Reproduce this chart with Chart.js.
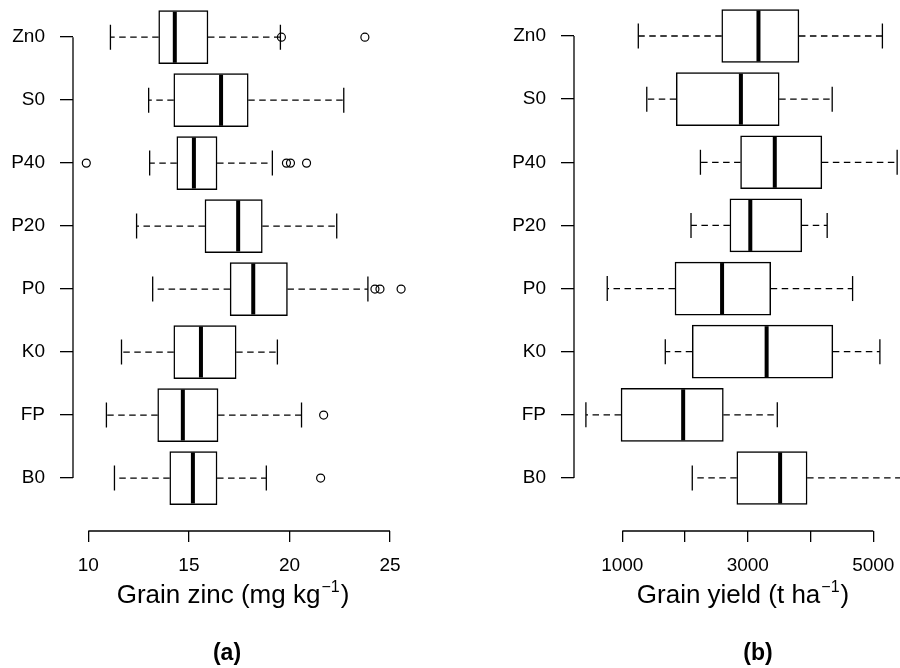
<!DOCTYPE html>
<html>
<head>
<meta charset="utf-8">
<script src="https://cdn.jsdelivr.net/npm/chart.js@4.4.1/dist/chart.umd.min.js"></script>
<style>
  html, body { margin: 0; padding: 0; background: #fff; }
  #wrap { position: relative; width: 900px; height: 668px; }
  canvas { position: absolute; top: 0; }
  #zinc { left: 0; }
  #yield { left: 450px; }
</style>
</head>
<body>
<div id="wrap">
  <canvas id="zinc" width="450" height="668"></canvas>
  <canvas id="yield" width="450" height="668"></canvas>
</div>
<script>
var categories = ['Zn0', 'S0', 'P40', 'P20', 'P0', 'K0', 'FP', 'B0'];

// (a) grain zinc, mg kg-1
var zincLow  = [11.1, 13.0, 13.05, 12.4, 13.2, 11.65, 10.9, 11.3];
var zincQ1   = [13.5, 14.25, 14.4, 15.8, 17.05, 14.25, 13.45, 14.05];
var zincMed  = [14.3, 16.6, 15.25, 17.45, 18.2, 15.6, 14.7, 15.2];
var zincQ3   = [15.95, 17.95, 16.4, 18.65, 19.9, 17.35, 16.45, 16.4];
var zincHigh = [19.55, 22.7, 19.15, 22.35, 23.9, 19.4, 20.6, 18.85];
var zincOutliers = [[19.6, 23.75], [], [9.9, 19.85, 20.05, 20.85], [], [24.25, 24.5, 25.55], [], [21.7], [21.55]];
var zincTicks = [10, 15, 20, 25];

// (b) grain yield, t ha-1
var yieldLow  = [1255, 1390, 2245, 2095, 760, 1685, 420, 2115];
var yieldQ1   = [2585, 1860, 2885, 2715, 1840, 2115, 980, 2825];
var yieldMed  = [3170, 2890, 3430, 3040, 2590, 3300, 1970, 3515];
var yieldQ3   = [3815, 3500, 4180, 3860, 3365, 4355, 2610, 3945];
var yieldHigh = [5145, 4345, 5380, 4265, 4670, 5105, 3470, 5600];
var yieldOutliers = [[], [], [], [], [], [], [], []];
var yieldTicks = [1000, 2000, 3000, 4000, 5000];
var yieldTickLabels = ['1000', '', '3000', '', '5000'];

Chart.defaults.font.family = '"Liberation Sans", Arial, Helvetica, sans-serif';
Chart.defaults.color = '#000';

function rowPos(i) {
    return categories.length - i;
}

function line(ctx, x1, y1, x2, y2) {
    ctx.beginPath();
    ctx.moveTo(x1, y1);
    ctx.lineTo(x2, y2);
    ctx.stroke();
}

var boxDecor = {
    id: 'boxdecor',
    afterDatasetsDraw: function (chart) {
        var o = chart.options.plugins.boxdecor;
        var xs = chart.scales.x, ys = chart.scales.y, ctx = chart.ctx, a = chart.chartArea;
        ctx.save();
        ctx.beginPath();
        ctx.rect(a.left, a.top, a.right - a.left, a.bottom - a.top);
        ctx.clip();
        ctx.strokeStyle = '#000';
        o.low.forEach(function (lo, i) {
            var y = ys.getPixelForValue(rowPos(i));
            var xLo = xs.getPixelForValue(lo), xHi = xs.getPixelForValue(o.high[i]);
            // dashed whiskers from the box edges
            ctx.lineWidth = 1.3;
            ctx.setLineDash([6.5, 4.5]);
            line(ctx, xs.getPixelForValue(o.q1[i]), y, xLo, y);
            line(ctx, xs.getPixelForValue(o.q3[i]), y, xHi, y);
            ctx.setLineDash([]);
            line(ctx, xLo, y - 12.5, xLo, y + 12.5);
            line(ctx, xHi, y - 12.5, xHi, y + 12.5);
            // median
            ctx.lineWidth = 4;
            var xm = xs.getPixelForValue(o.med[i]);
            line(ctx, xm, y - 25.5, xm, y + 25.5);
        });
        ctx.restore();
    },
    afterDraw: function (chart) {
        var o = chart.options.plugins.boxdecor;
        var xs = chart.scales.x, ys = chart.scales.y, ctx = chart.ctx, a = chart.chartArea;
        ctx.save();
        ctx.strokeStyle = '#000';
        ctx.lineWidth = 1.3;
        // axis lines only span the ticks, like base R
        line(ctx, xs.getPixelForValue(o.ticks[0]), a.bottom, xs.getPixelForValue(o.ticks[o.ticks.length - 1]), a.bottom);
        line(ctx, a.left, ys.getPixelForValue(categories.length), a.left, ys.getPixelForValue(1));

        // axis title with superscript
        var fam = '"Liberation Sans", Arial, Helvetica, sans-serif';
        ctx.fillStyle = '#000';
        ctx.textBaseline = 'alphabetic';
        ctx.textAlign = 'left';
        ctx.font = '26px ' + fam;
        var wMain = ctx.measureText(o.title).width;
        var wClose = ctx.measureText(')').width;
        ctx.font = '16px ' + fam;
        var wSup = ctx.measureText(o.sup).width;
        var x0 = o.titleX - (wMain + wSup + wClose + 2) / 2;
        ctx.font = '26px ' + fam;
        ctx.fillText(o.title, x0, o.titleY);
        ctx.fillText(')', x0 + wMain + wSup + 2, o.titleY);
        ctx.font = '16px ' + fam;
        ctx.fillText(o.sup, x0 + wMain + 1, o.titleY - 11);

        // panel letter
        ctx.font = 'bold 23px ' + fam;
        ctx.textAlign = 'center';
        ctx.fillText(o.panel, o.panelX, o.panelY);
        ctx.restore();
    }
};

function makePanel(canvasId, d) {
    var boxes = categories.map(function (c, i) {
        return { x: [d.q1[i], d.q3[i]], y: rowPos(i) };
    });
    var outs = [];
    d.outliers.forEach(function (list, i) {
        list.forEach(function (v) {
            outs.push({ x: v, y: rowPos(i) });
        });
    });

    return new Chart(document.getElementById(canvasId), {
        type: 'bar',
        data: {
            datasets: [{
                type: 'bar',
                data: boxes,
                backgroundColor: '#fff',
                borderColor: '#000',
                borderWidth: 1.5,
                borderSkipped: false,
                barThickness: 53,
                order: 2
            }, {
                type: 'scatter',
                data: outs,
                pointStyle: 'circle',
                pointRadius: 4,
                pointBorderWidth: 1.2,
                pointBorderColor: '#000',
                pointBackgroundColor: 'rgba(255,255,255,0)',
                order: 1
            }]
        },
        options: {
            indexAxis: 'y',
            responsive: false,
            animation: false,
            layout: { padding: { top: 4, bottom: 0, left: 0, right: d.padRight } },
            plugins: {
                legend: { display: false },
                tooltip: { enabled: false },
                boxdecor: {
                    low: d.low, q1: d.q1, med: d.med, q3: d.q3, high: d.high,
                    ticks: d.ticks,
                    title: d.title, sup: '\u22121',
                    titleX: d.titleX, titleY: 603,
                    panel: d.panel, panelX: d.panelX, panelY: 660
                }
            },
            scales: {
                x: {
                    type: 'linear',
                    position: 'bottom',
                    min: d.min,
                    max: d.max,
                    offset: false,
                    bounds: 'data',
                    border: { display: false },
                    grid: { drawOnChartArea: false, drawTicks: true, tickLength: 11, color: '#000', lineWidth: 1.3, offset: false },
                    ticks: {
                        font: { size: 19 },
                        padding: 12,
                        maxRotation: 0,
                        autoSkip: false,
                        callback: function (v, idx) { return d.tickLabels[idx]; }
                    },
                    afterBuildTicks: function (s) {
                        s.ticks = d.ticks.map(function (v) { return { value: v }; });
                    },
                    afterFit: function (s) {
                        s.height = 137;
                        s.paddingLeft = 0;
                        s.paddingRight = 0;
                    }
                },
                y: {
                    type: 'linear',
                    min: 0.16,
                    max: 8.507,
                    offset: false,
                    bounds: 'data',
                    border: { display: false },
                    grid: { drawOnChartArea: false, drawTicks: true, tickLength: 13, color: '#000', lineWidth: 1.3, offset: false },
                    ticks: {
                        font: { size: 19 },
                        padding: 15,
                        autoSkip: false,
                        callback: function (v) { return categories[categories.length - v]; }
                    },
                    afterBuildTicks: function (s) {
                        s.ticks = categories.map(function (c, i) { return { value: rowPos(i) }; });
                    },
                    afterFit: function (s) {
                        s.width = d.yWidth;
                        s.paddingTop = 0;
                        s.paddingBottom = 0;
                    }
                }
            }
        },
        plugins: [boxDecor]
    });
}

var zincChart = makePanel('zinc', {
    low: zincLow, q1: zincQ1, med: zincMed, q3: zincQ3, high: zincHigh, outliers: zincOutliers,
    ticks: zincTicks, tickLabels: zincTicks.map(String),
    min: 9.239, max: 26.49, yWidth: 73, padRight: 30,
    title: 'Grain zinc (mg kg', titleX: 233, panel: '(a)', panelX: 227
});

var yieldChart = makePanel('yield', {
    low: yieldLow, q1: yieldQ1, med: yieldMed, q3: yieldQ3, high: yieldHigh, outliers: yieldOutliers,
    ticks: yieldTicks, tickLabels: yieldTickLabels,
    min: 230.3, max: 5425.5, yWidth: 124, padRight: 0,
    title: 'Grain yield (t ha', titleX: 293, panel: '(b)', panelX: 308
});
</script>
</body>
</html>
